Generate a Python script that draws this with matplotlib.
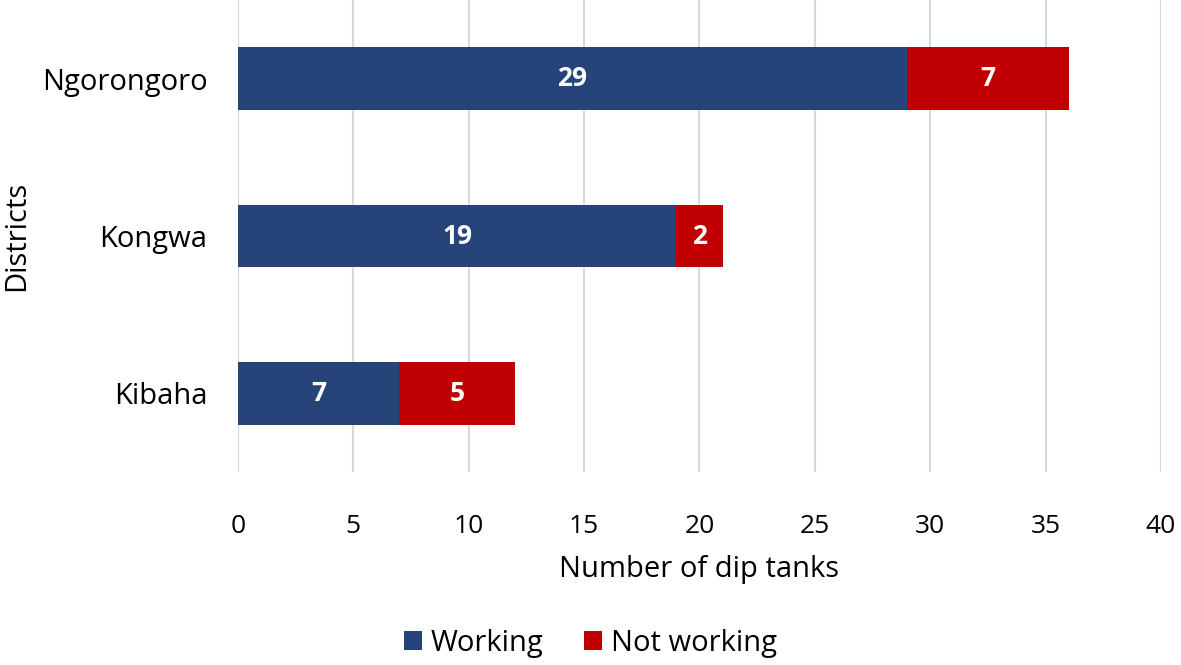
import matplotlib.pyplot as plt

districts = ["Ngorongoro", "Kongwa", "Kibaha"]
working = [29, 19, 7]
not_working = [7, 2, 5]
x_ticks = [0, 5, 10, 15, 20, 25, 30, 35, 40]

plt.rcParams["font.family"] = ["Open Sans", "DejaVu Sans"]

fig = plt.figure(figsize=(11.81, 6.65), dpi=100)
ax = fig.add_axes([0.2015, 0.2902, 0.7815, 0.7098])

pos = list(range(len(districts)))
b1 = ax.barh(pos, working, height=0.4, color="#264478", label="Working", zorder=3)
b2 = ax.barh(pos, not_working, left=working, height=0.4, color="#C00000",
             label="Not working", zorder=3)

for bars in (b1, b2):
    ax.bar_label(bars, label_type="center", color="white", fontsize=19,
                 fontweight="bold")

ax.set_ylim(len(districts) - 0.5, -0.5)
ax.set_xlim(0, 40)
ax.set_yticks(pos)
ax.set_yticklabels(districts, fontsize=21)
ax.set_xticks(x_ticks)
ax.tick_params(axis="x", labelsize=19, length=0, pad=30)
ax.tick_params(axis="y", length=0, pad=22)
ax.grid(axis="x", color="#d9d9d9", linewidth=1.5, zorder=0)
for s in ax.spines.values():
    s.set_visible(False)

ax.set_xlabel("Number of dip tanks", fontsize=21, labelpad=12)
ax.set_ylabel("Districts", fontsize=21, labelpad=8)

fig.legend(handles=[b1, b2], loc="center", bbox_to_anchor=(0.5, 0.033),
           ncol=2, frameon=False, fontsize=21, handlelength=0.6,
           handleheight=0.6, handletextpad=0.3, columnspacing=1.4)

fig.savefig("out.png", dpi=100)
